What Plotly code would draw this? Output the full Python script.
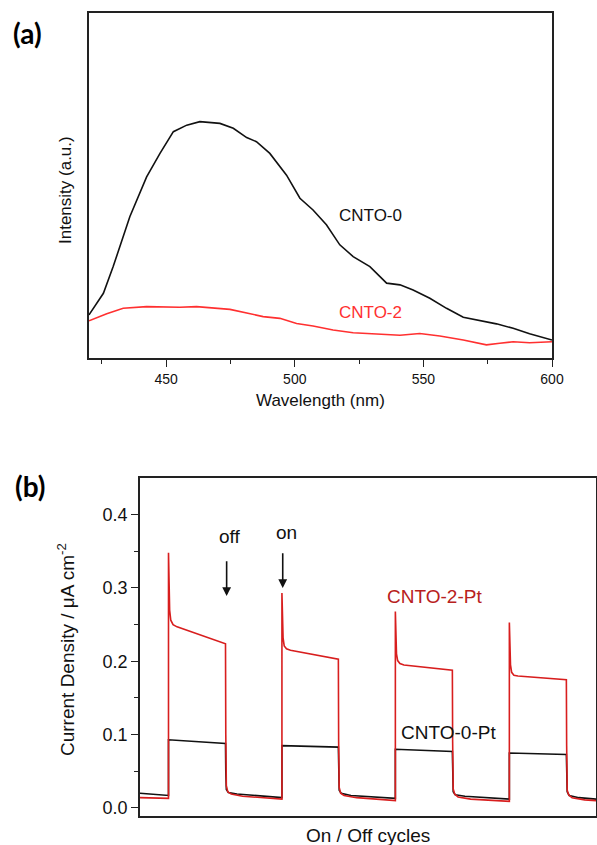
import plotly.graph_objects as go

# ---- (a) photoluminescence spectra ----
wl_cnto0 = [420, 425.6, 429.4, 435.9, 442.4, 447.6, 452.8, 458, 463.1, 470.9, 476.1,
            481.3, 485.1, 490.3, 496.8, 502, 507.1, 512.3, 517.5, 522.7, 529.2, 535.7,
            540.9, 546, 552.5, 559, 565.5, 571.9, 578.4, 584.9, 591.3, 600]
pl_cnto0 = [0.125, 0.1875, 0.265, 0.41, 0.525, 0.593, 0.656, 0.675, 0.685, 0.680, 0.666,
            0.639, 0.627, 0.593, 0.530, 0.463, 0.429, 0.386, 0.328, 0.294, 0.265, 0.217,
            0.212, 0.197, 0.173, 0.144, 0.118, 0.108, 0.099, 0.086, 0.070, 0.052]

wl_cnto2 = [420, 426.9, 433.3, 442.4, 455.3, 461.8, 474.8, 481.3, 487.7, 494.2, 500.7,
            507.1, 514.9, 522.7, 533, 540.9, 548.6, 556.4, 565.5, 574.5, 579.7, 584.9,
            591.3, 600]
pl_cnto2 = [0.108, 0.128, 0.144, 0.149, 0.147, 0.149, 0.141, 0.130, 0.120, 0.115, 0.100,
            0.093, 0.081, 0.073, 0.070, 0.066, 0.071, 0.064, 0.052, 0.038, 0.043, 0.047,
            0.044, 0.047]

# ---- (b) transient photocurrent (time in s) ----
t_cnto2pt = [0, 50, 50, 51, 52, 54, 58, 65,
             150, 150.5, 151.5, 154, 160, 180,
             249, 249, 250, 251, 253, 257, 264,
             348, 348.5, 349.5, 352, 358, 380,
             448, 448, 449, 450, 452, 456, 463,
             548, 548.5, 549.5, 552, 558, 580,
             648, 648, 649, 650, 652, 656, 663,
             748, 748.5, 749.5, 752, 758, 780, 800]
j_cnto2pt = [0.014, 0.013, 0.348, 0.300, 0.270, 0.256, 0.250, 0.247,
             0.224, 0.100, 0.030, 0.022, 0.019, 0.016,
             0.012, 0.293, 0.255, 0.232, 0.221, 0.217, 0.215,
             0.203, 0.090, 0.028, 0.020, 0.017, 0.014,
             0.010, 0.268, 0.230, 0.210, 0.201, 0.197, 0.195,
             0.188, 0.090, 0.026, 0.019, 0.015, 0.012,
             0.009, 0.253, 0.215, 0.195, 0.185, 0.181, 0.180,
             0.175, 0.085, 0.024, 0.018, 0.014, 0.011, 0.010]

t_cnto0pt = [0, 50, 50, 150, 150.5, 151.5, 155, 170,
             249, 249, 348, 348.5, 349.5, 353, 370,
             448, 448, 548, 548.5, 549.5, 553, 570,
             648, 648, 748, 748.5, 749.5, 753, 770, 800]
j_cnto0pt = [0.020, 0.017, 0.093, 0.088, 0.050, 0.025, 0.021, 0.019,
             0.014, 0.085, 0.083, 0.050, 0.024, 0.020, 0.017,
             0.013, 0.080, 0.077, 0.045, 0.022, 0.018, 0.016,
             0.012, 0.075, 0.073, 0.045, 0.022, 0.017, 0.014, 0.012]

FONT = "Liberation Sans, Arial, sans-serif"
AXIS = "#222222"
W, H = 597, 845


def px_x(p):
    return p / W


def px_y(p):
    return 1 - p / H


fig = go.Figure()

fig.add_trace(go.Scatter(x=wl_cnto0, y=pl_cnto0, mode="lines",
                         line=dict(color="#111111", width=1.6), xaxis="x", yaxis="y"))
fig.add_trace(go.Scatter(x=wl_cnto2, y=pl_cnto2, mode="lines",
                         line=dict(color="#ff3030", width=1.6), xaxis="x", yaxis="y"))
fig.add_trace(go.Scatter(x=t_cnto0pt, y=j_cnto0pt, mode="lines",
                         line=dict(color="#111111", width=1.6), xaxis="x2", yaxis="y2"))
fig.add_trace(go.Scatter(x=t_cnto2pt, y=j_cnto2pt, mode="lines",
                         line=dict(color="#d81e1e", width=1.6), xaxis="x2", yaxis="y2"))

axis_common = dict(showline=True, linecolor=AXIS, linewidth=1.6, mirror=True,
                   showgrid=False, zeroline=False, automargin=False)

fig.update_layout(
    width=W, height=H, autosize=False, margin=dict(l=0, r=0, t=0, b=0, pad=0, autoexpand=False),
    paper_bgcolor="white", plot_bgcolor="white", showlegend=False,
    font=dict(family=FONT, color="#111111"),
    xaxis=dict(domain=[px_x(89), px_x(552)], range=[420, 600], anchor="y",
               tickvals=[450, 500, 550, 600], ticks="outside", ticklen=7,
               tickwidth=1.4, tickcolor=AXIS, tickfont=dict(size=14, family=FONT),
               minor=dict(tickvals=[425, 475, 525, 575], ticks="outside", ticklen=4,
                          tickwidth=1.4, tickcolor=AXIS),
               **axis_common),
    yaxis=dict(domain=[px_y(358), px_y(13)], range=[0, 1], anchor="x",
               showticklabels=False, ticks="", **axis_common),
    xaxis2=dict(domain=[px_x(140), px_x(596)], range=[0, 800], anchor="y2",
                showticklabels=False, ticks="", **axis_common),
    yaxis2=dict(domain=[px_y(816), px_y(478)], range=[-0.011, 0.45], anchor="x2",
                tickvals=[0.0, 0.1, 0.2, 0.3, 0.4], ticktext=["0.0", "0.1", "0.2", "0.3", "0.4"],
                ticks="outside", ticklen=7, tickwidth=1.4, tickcolor=AXIS,
                tickfont=dict(size=18, family=FONT),
                minor=dict(tickvals=[0.05, 0.15, 0.25, 0.35], ticks="outside", ticklen=4,
                           tickwidth=1.4, tickcolor=AXIS),
                **axis_common),
)


def label(text, x, y, size, xref="paper", yref="paper", color="#111111",
          family=FONT, angle=0):
    return dict(text=text, x=x, y=y, xref=xref, yref=yref, showarrow=False,
                xanchor="center", yanchor="middle", textangle=angle,
                font=dict(size=size, family=family, color=color))


ann = [
    # panel letters
    label("<b>(a)</b>", px_x(27), px_y(33), 28, family="Lato, sans-serif", color="#000"),
    label("<b>(b)</b>", px_x(30), px_y(486), 28, family="Lato, sans-serif", color="#000"),
    # axis titles
    label("Wavelength (nm)", px_x(320), px_y(401), 17),
    label("Intensity (a.u.)", px_x(65), px_y(190), 17, angle=-90),
    label("On / Off cycles", px_x(368), px_y(835), 19),
    label("Current Density / \u03bcA cm<sup>-2</sup>", px_x(66), px_y(650), 19, angle=-90),
    # series labels
    label("CNTO-0", 529.4, 0.414, 17, "x", "y"),
    label("CNTO-2", 529.5, 0.132, 17, "x", "y", color="#ff3030"),
    label("CNTO-2-Pt", 516, 0.289, 19, "x2", "y2", color="#b82020"),
    label("CNTO-0-Pt", 541, 0.1025, 19, "x2", "y2"),
    # light on/off markers
    label("off", 158, 0.370, 19, "x2", "y2"),
    label("on", 257, 0.375, 19, "x2", "y2"),
]
for x_arrow, y_tip, y_tail in [(152, 0.289, 0.348), (250.4, 0.300, 0.359)]:
    ann.append(dict(x=x_arrow, y=y_tip, ax=x_arrow, ay=y_tail, xref="x2", yref="y2",
                    axref="x2", ayref="y2", showarrow=True, arrowhead=2, arrowsize=1.1,
                    arrowwidth=1.6, arrowcolor="#111111"))

fig.update_layout(annotations=ann)
fig.write_html(
    "out.html",
    config={"responsive": False},
    post_script="document.body.style.margin='0';document.body.style.overflow='hidden';",
)
